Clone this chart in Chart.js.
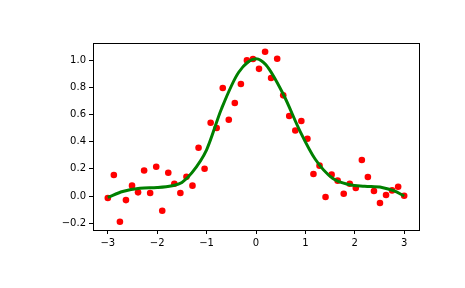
<!DOCTYPE html>
<html>
<head>
<meta charset="utf-8">
<script src="https://cdn.jsdelivr.net/npm/chart.js@4/dist/chart.umd.min.js"></script>
<style>
  html, body { margin: 0; padding: 0; background: #fff; }
  #wrap { width: 465px; height: 288px; }
</style>
</head>
<body>
<div id="wrap"><canvas id="chart"></canvas></div>
<script>
// noisy samples (x, y)
const sampleX = [-3.0, -2.878, -2.755, -2.633, -2.51, -2.388, -2.265, -2.143, -2.02, -1.898,
    -1.776, -1.653, -1.531, -1.408, -1.286, -1.163, -1.041, -0.918, -0.796, -0.673,
    -0.551, -0.429, -0.306, -0.184, -0.061, 0.061, 0.184, 0.306, 0.429, 0.551,
    0.673, 0.796, 0.918, 1.041, 1.163, 1.286, 1.408, 1.531, 1.653, 1.776,
    1.898, 2.02, 2.143, 2.265, 2.388, 2.51, 2.633, 2.755, 2.878, 3.0]
const sampleY = [-0.015, 0.154, -0.189, -0.03, 0.076, 0.027, 0.188, 0.022, 0.215, -0.108,
    0.171, 0.09, 0.022, 0.142, 0.076, 0.355, 0.2, 0.539, 0.5, 0.794,
    0.561, 0.684, 0.824, 0.997, 1.007, 0.935, 1.061, 0.868, 1.009, 0.74,
    0.588, 0.482, 0.551, 0.421, 0.162, 0.223, -0.007, 0.157, 0.113, 0.017,
    0.09, 0.059, 0.265, 0.14, 0.037, -0.051, 0.007, 0.041, 0.068, 0.002]

// smoothing spline
const curveX = [-3, -2.7, -2.35, -2.0, -1.7, -1.5, -1.3, -1.0, -0.7, -0.35, 0, 0.2, 0.55, 0.9, 1.2, 1.55, 1.9, 2.2, 2.55, 2.8, 3]
const curveY = [-0.01, 0.033, 0.057, 0.062, 0.075, 0.1, 0.17, 0.34, 0.64, 0.91, 1.01, 0.965, 0.75, 0.47, 0.27, 0.13, 0.083, 0.072, 0.063, 0.037, 0.0]

const xTicks = [-3, -2, -1, 0, 1, 2, 3]
const yTicks = [-0.2, 0.0, 0.2, 0.4, 0.6, 0.8, 1.0]

const minus = (s) => s.replace('-', '\u2212')

const frame = {
    id: 'frame',
    afterDraw(chart) {
        const a = chart.chartArea
        const ctx = chart.ctx
        ctx.save()
        ctx.strokeStyle = '#000'
        ctx.lineWidth = 1
        ctx.strokeRect(Math.round(a.left) + 0.5, Math.round(a.top) + 0.5,
            Math.round(a.right - a.left), Math.round(a.bottom - a.top))
        ctx.restore()
    }
}

const tickFont = { family: 'DejaVu Sans', size: 10 }

new Chart(document.getElementById('chart'), {
    type: 'scatter',
    data: {
        datasets: [
            {
                type: 'line',
                data: curveX.map((x, i) => ({ x: x, y: curveY[i] })),
                borderColor: '#008000',
                borderWidth: 3,
                pointRadius: 0,
                cubicInterpolationMode: 'monotone',
                fill: false,
                order: 0
            },
            {
                data: sampleX.map((x, i) => ({ x: x, y: sampleY[i] })),
                backgroundColor: '#ff0000',
                borderWidth: 0,
                pointRadius: 3.3,
                order: 1
            }
        ]
    },
    options: {
        responsive: true,
        maintainAspectRatio: false,
        animation: false,
        layout: { padding: { left: 0, top: 43, right: 46, bottom: 0 } },
        plugins: { legend: { display: false }, tooltip: { enabled: false } },
        scales: {
            x: {
                type: 'linear',
                min: -3.3,
                max: 3.3,
                afterBuildTicks: (s) => { s.ticks = xTicks.map(v => ({ value: v })) },
                afterFit: (s) => { s.height = 58 },
                grid: { drawOnChartArea: false, drawTicks: true, tickLength: 4, color: '#000' },
                border: { display: true, color: '#000' },
                ticks: { color: '#000', font: tickFont, padding: 3, maxRotation: 0,
                    callback: (v) => minus(String(v)) }
            },
            y: {
                type: 'linear',
                min: -0.25,
                max: 1.125,
                afterBuildTicks: (s) => { s.ticks = yTicks.map(v => ({ value: v })) },
                afterFit: (s) => { s.width = 93 },
                grid: { drawOnChartArea: false, drawTicks: true, tickLength: 4, color: '#000' },
                border: { display: true, color: '#000' },
                ticks: { color: '#000', font: tickFont, padding: 3,
                    callback: (v) => minus(v.toFixed(1)) }
            }
        }
    },
    plugins: [frame]
})
</script>
</body>
</html>
